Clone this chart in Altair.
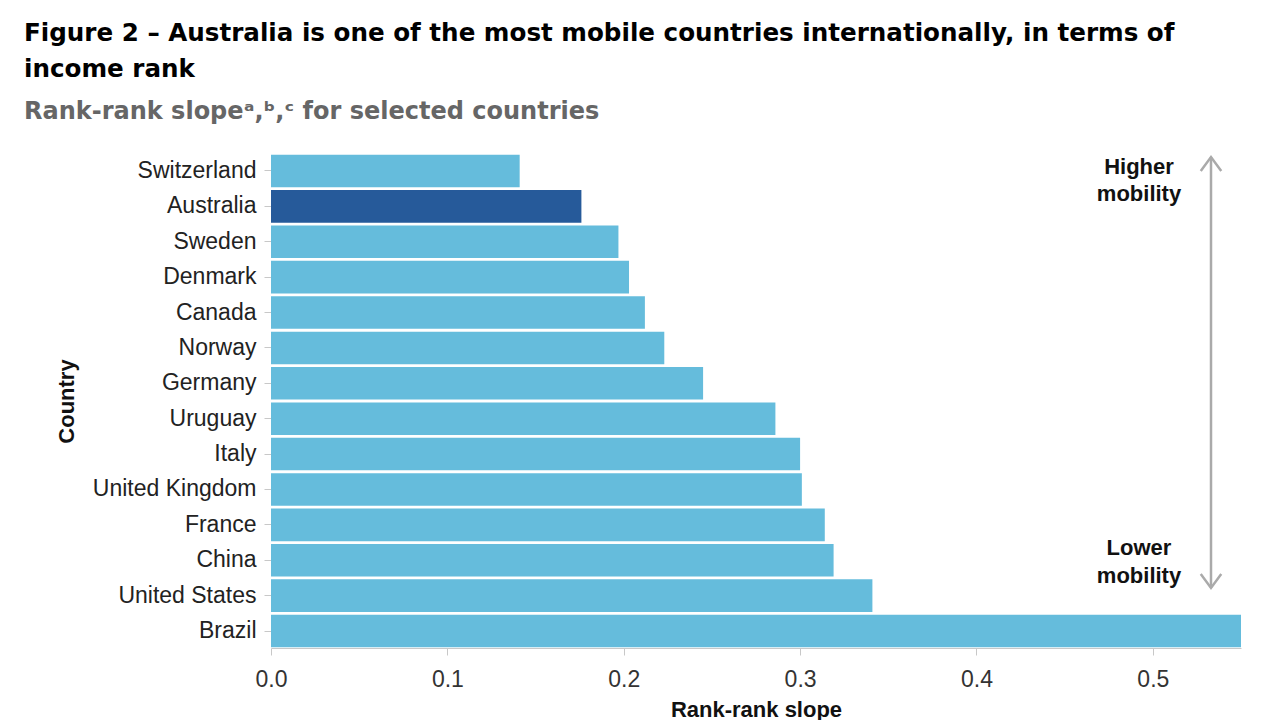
import altair as alt
import pandas as pd

countries = ["Switzerland", "Australia", "Sweden", "Denmark", "Canada", "Norway", "Germany",
             "Uruguay", "Italy", "United Kingdom", "France", "China", "United States", "Brazil"]
slopes = [0.141, 0.176, 0.197, 0.203, 0.212, 0.223, 0.245,
          0.286, 0.300, 0.301, 0.314, 0.319, 0.341, 0.55]
highlight = ["Australia"]

df = pd.DataFrame({"Country": countries, "Slope": slopes})
df["Group"] = ["Australia" if c in highlight else "Other" for c in countries]

W, H = 970, 494
FONT = "Liberation Sans"
HEAVY = "DejaVu Sans"

bars = alt.Chart(df).mark_bar(clip=True).encode(
    y=alt.Y("Country:N", sort=countries,
            scale=alt.Scale(paddingInner=0.08, paddingOuter=0.02),
            axis=alt.Axis(title="Country", titleFont=FONT, titleFontSize=22, titleFontWeight="bold",
                          titleColor="#111", titleAngle=270, titleX=-205, titleY=H / 2,
                          titleAlign="center", titleBaseline="middle",
                          labelFont=FONT, labelFontSize=23, labelColor="#222",
                          tickColor="#c8c8c8", tickSize=7, labelPadding=8,
                          domain=False)),
    x=alt.X("Slope:Q", scale=alt.Scale(domain=[0, 0.55], nice=False),
            axis=alt.Axis(title="Rank-rank slope", titleFont=FONT, titleFontSize=22,
                          titleFontWeight="bold", titleColor="#111",
                          titleX=W / 2, titleY=61, titleBaseline="middle",
                          values=[0, 0.1, 0.2, 0.3, 0.4, 0.5], format=".1f",
                          labelFont=FONT, labelFontSize=23, labelColor="#333",
                          labelFlush=False,
                          tickColor="#c8c8c8", tickSize=7, labelPadding=13,
                          domainColor="#c8c8c8", grid=False)),
    color=alt.Color("Group:N", scale=alt.Scale(domain=["Australia", "Other"],
                                               range=["#265A9A", "#65BCDC"]), legend=None),
)

ann_df = pd.DataFrame({"t": ["Higher", "mobility", "Lower", "mobility"],
                       "yy": [13, 40, 394, 422]})
ann = alt.Chart(ann_df).mark_text(font=FONT, fontSize=22, fontWeight="bold", color="#111",
                                  align="center", baseline="middle").encode(
    x=alt.value(868), y=alt.Y("yy:Q", scale=None), text="t:N")

arrow_line = alt.Chart(pd.DataFrame({"a": [0]})).mark_rule(color="#aaaaaa", strokeWidth=2.5).encode(
    x=alt.value(940), y=alt.value(3), y2=alt.value(434))

head_df = pd.DataFrame({"yy": [10, 427],
                        "shape": ["M -1 0.68 L 0 -0.68 L 1 0.68", "M -1 -0.68 L 0 0.68 L 1 -0.68"]})
heads = alt.Chart(head_df).mark_point(filled=False, color="#aaaaaa", strokeWidth=2.5, size=420, opacity=1).encode(
    x=alt.value(940), y=alt.Y("yy:Q", scale=None),
    shape=alt.Shape("shape:N", scale=None, legend=None))

chart = alt.layer(bars, arrow_line, heads, ann).properties(
    width=W, height=H,
    background="white",
    title=alt.Title(
        ["Figure 2 – Australia is one of the most mobile countries internationally, in terms of",
         "income rank"],
        subtitle="Rank-rank slopeᵃ,ᵇ,ᶜ for selected countries",
        anchor="start", frame="group", dx=-247, offset=27,
        font=HEAVY, fontSize=24.6, fontWeight="bold", color="#000", lineHeight=36,
        subtitleFont=HEAVY, subtitleFontSize=24, subtitleFontWeight="bold",
        subtitleColor="#666666", subtitlePadding=17),
    autosize=alt.AutoSizeParams(type="none"),
    padding={"left": 271, "top": 154, "right": 39, "bottom": 72},
).configure_view(strokeWidth=0, stroke=None)

chart.save("out.html", embed_options={"renderer": "svg", "actions": False})
